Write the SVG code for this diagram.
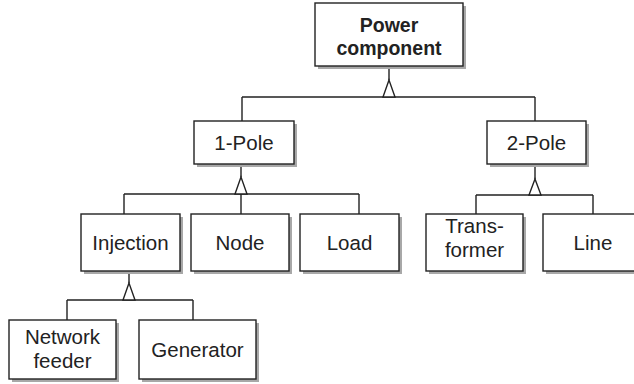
<svg xmlns="http://www.w3.org/2000/svg" width="634" height="384" viewBox="0 0 634 384">
<style>
.sh{fill:#a8a8a8;stroke:none}
.bx{fill:#fff;stroke:#222;stroke-width:1.4}
.t{font-family:"Liberation Sans",Arial,sans-serif;font-size:20.5px;fill:#222;text-anchor:middle}
.b{font-weight:bold;font-size:19.5px}
.c{fill:none;stroke:#222;stroke-width:1.4}
.tri{fill:#fff;stroke:#222;stroke-width:1.4}
</style>
<rect width="634" height="384" fill="#fff"/>
<g id="connectors">
<path class="c" d="M389,66V80M242,97H535M242,97V121M535,97V121"/>
<polygon class="tri" points="389,80 383,97 395,97"/>
<path class="c" d="M241,164V177M124,194H359M124,194V214M241,194V214M359,194V214"/>
<polygon class="tri" points="241,177 235,194 247,194"/>
<path class="c" d="M535,164V179M476,195H593M476,195V214M593,195V214"/>
<polygon class="tri" points="535,179 529,195 541,195"/>
<path class="c" d="M129,271V283M67,300H193M67,300V320M193,300V320"/>
<polygon class="tri" points="129,283 123,300 135,300"/>
</g>
<g id="power">
<rect class="sh" x="318" y="6" width="148" height="63"/>
<rect class="bx" x="315" y="3" width="148" height="63"/>
<text class="t b" x="389" y="32">Power</text>
<text class="t b" x="389" y="55">component</text>
</g>
<g id="pole1">
<rect class="sh" x="197" y="124" width="100" height="43"/>
<rect class="bx" x="194" y="121" width="100" height="43"/>
<text class="t" x="244" y="150">1-Pole</text>
</g>
<g id="pole2">
<rect class="sh" x="490" y="124" width="99" height="43"/>
<rect class="bx" x="487" y="121" width="99" height="43"/>
<text class="t" x="536.5" y="150">2-Pole</text>
</g>
<g id="injection">
<rect class="sh" x="84" y="217" width="99" height="57"/>
<rect class="bx" x="81" y="214" width="99" height="57"/>
<text class="t" x="130.5" y="250">Injection</text>
</g>
<g id="node">
<rect class="sh" x="194" y="217" width="98" height="57"/>
<rect class="bx" x="191" y="214" width="98" height="57"/>
<text class="t" x="240" y="250">Node</text>
</g>
<g id="load">
<rect class="sh" x="303" y="217" width="99" height="57"/>
<rect class="bx" x="300" y="214" width="99" height="57"/>
<text class="t" x="349.5" y="250">Load</text>
</g>
<g id="transformer">
<rect class="sh" x="429" y="217" width="97" height="57"/>
<rect class="bx" x="426" y="214" width="97" height="57"/>
<text class="t" x="474.5" y="233">Trans-</text>
<text class="t" x="474.5" y="257">former</text>
</g>
<g id="line">
<rect class="sh" x="546" y="217" width="100" height="57"/>
<rect class="bx" x="543" y="214" width="100" height="57"/>
<text class="t" x="593" y="250">Line</text>
</g>
<g id="feeder">
<rect class="sh" x="12" y="323" width="107" height="59"/>
<rect class="bx" x="9" y="320" width="107" height="59"/>
<text class="t" x="62.5" y="344">Network</text>
<text class="t" x="62.5" y="368">feeder</text>
</g>
<g id="generator">
<rect class="sh" x="142" y="323" width="117" height="59"/>
<rect class="bx" x="139" y="320" width="117" height="59"/>
<text class="t" x="197.5" y="357">Generator</text>
</g>
</svg>
